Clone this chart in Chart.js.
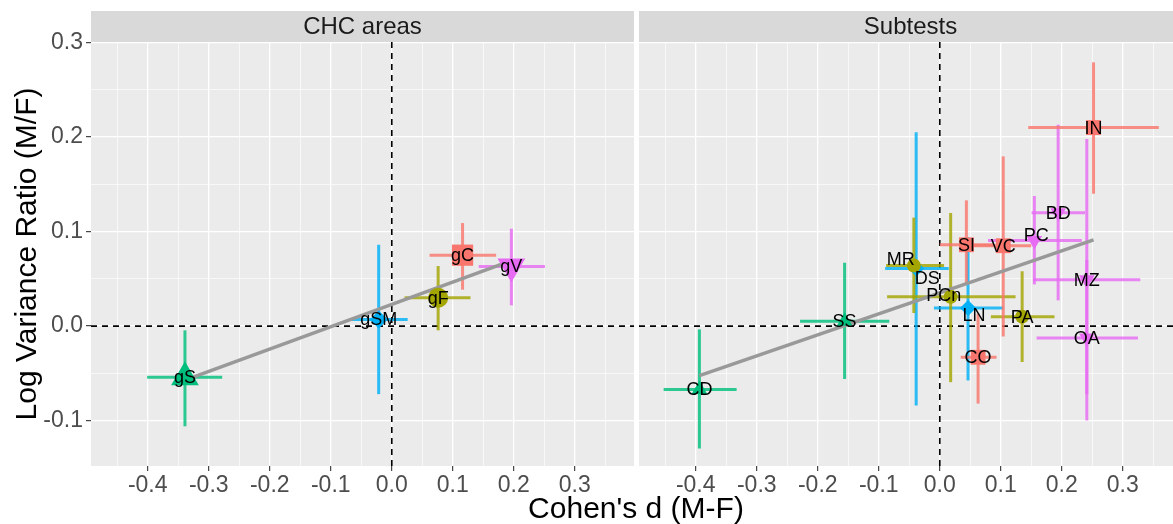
<!DOCTYPE html>
<html>
<head>
<meta charset="utf-8">
<script src="https://cdn.jsdelivr.net/npm/chart.js@4"></script>
<style>
  html, body { margin: 0; padding: 0; background: #fff; overflow: hidden; }
  #wrap { position: relative; width: 1173px; height: 524px; overflow: hidden; }
  #left { position: absolute; left: 0; top: 0; }
  #right { position: absolute; left: 636px; top: 0; }
  #xtitle { position: absolute; left: 0; width: 1272px; top: 491px; text-align: center;
            font: 30px "Liberation Sans", Arial, sans-serif; line-height: 34px; color: #000; }
</style>
</head>
<body>
<div id="wrap">
  <canvas id="left" width="636" height="524"></canvas>
  <canvas id="right" width="546" height="524"></canvas>
  <div id="xtitle">Cohen's d (M-F)</div>
</div>
<script>
const areas = ["gC", "gF", "gS", "gSM", "gV"];
const areaColors = ["#F8766D", "#A3A500", "#00BF7D", "#00B0F6", "#E76BF3"];
const areaShapes = ["rect", "circle", "triangle", "rectRot", "triangle"];
const areaRotation = [0, 0, 0, 0, 180];

// CHC areas panel
const chcLabels = ["gC", "gF", "gS", "gSM", "gV"];
const chcD = [0.116, 0.076, -0.339, -0.0215, 0.196];
const chcDLow = [0.062, 0.021, -0.401, -0.068, 0.1425];
const chcDHigh = [0.171, 0.129, -0.278, 0.026, 0.251];
const chcLvr = [0.075, 0.030, -0.054, 0.007, 0.063];
const chcLvrLow = [0.0385, -0.0045, -0.106, -0.072, 0.022];
const chcLvrHigh = [0.109, 0.0635, -0.0045, 0.086, 0.103];

// Subtests panel
const subLabels = ["IN", "SI", "VC", "CO", "MR", "PCn", "PA", "SS", "CD", "DS", "LN", "BD", "PC", "MZ", "OA"];
const subArea = ["gC", "gC", "gC", "gC", "gF", "gF", "gF", "gS", "gS", "gSM", "gSM", "gV", "gV", "gV", "gV"];
const subD = [0.252, 0.0436, 0.104, 0.0628, -0.0425, 0.0178, 0.135, -0.156, -0.394, -0.0387, 0.0463, 0.194, 0.155, 0.241, 0.241];
const subDLow = [0.145, 0.0, 0.046, 0.0343, -0.088, -0.0863, 0.0837, -0.229, -0.4526, -0.0896, -0.0096, 0.1505, 0.079, 0.153, 0.1587];
const subDHigh = [0.359, 0.087, 0.150, 0.093, 0.007, 0.1242, 0.188, -0.0828, -0.333, 0.0146, 0.104, 0.2382, 0.2327, 0.3286, 0.3248];
const subLvr = [0.21, 0.086, 0.085, -0.033, 0.064, 0.031, 0.010, 0.005, -0.067, 0.061, 0.019, 0.12, 0.0905, 0.049, -0.0127];
const subLvrLow = [0.140, 0.045, -0.011, -0.082, 0.0138, -0.0593, -0.038, -0.056, -0.1295, -0.0839, -0.0575, 0.0272, 0.0441, -0.072, -0.0998];
const subLvrHigh = [0.279, 0.133, 0.1795, 0.013, 0.1147, 0.1196, 0.058, 0.067, -0.0035, 0.205, 0.094, 0.213, 0.1376, 0.198, 0.07];

// axes
const xTicks = [-0.45, -0.4, -0.35, -0.3, -0.25, -0.2, -0.15, -0.1, -0.05, 0, 0.05, 0.1, 0.15, 0.2, 0.25, 0.3, 0.35];
const xMajor = [-0.4, -0.3, -0.2, -0.1, 0, 0.1, 0.2, 0.3];
const yTicks = [-0.1, -0.05, 0, 0.05, 0.1, 0.15, 0.2, 0.25, 0.3];
const yMajor = [-0.1, 0, 0.1, 0.2, 0.3];
const xMin = -0.493, xMax = 0.397, yMin = -0.148, yMax = 0.3005;

// nudges for a few crowded labels (pixels)
const labelNudge = { MR: [-13, -7], DS: [11, 10], PCn: [-7, -2], LN: [6, 7], PC: [2, -5] };

Chart.defaults.font.family = '"Liberation Sans", Arial, sans-serif';

const isMajor = (v, list) => list.some(m => Math.abs(m - v) < 1e-9);

function withAlpha(hex, a) {
  const n = parseInt(hex.slice(1), 16);
  return `rgba(${(n >> 16) & 255},${(n >> 8) & 255},${n & 255},${a})`;
}

function fitLine(xs, ys) {
  const n = xs.length;
  const mx = xs.reduce((s, v) => s + v, 0) / n;
  const my = ys.reduce((s, v) => s + v, 0) / n;
  let sxy = 0, sxx = 0;
  for (let i = 0; i < n; i++) {
    sxy += (xs[i] - mx) * (ys[i] - my);
    sxx += (xs[i] - mx) ** 2;
  }
  const b = sxy / sxx;
  const lo = Math.min(...xs), hi = Math.max(...xs);
  return [{ x: lo, y: my + b * (lo - mx) }, { x: hi, y: my + b * (hi - mx) }];
}

function buildDatasets(p) {
  const ds = [];
  const dash = { showLine: true, borderColor: "#000", borderWidth: 1.6, borderDash: [6, 5], pointRadius: 0, order: 5 };
  ds.push({ ...dash, data: [{ x: 0, y: yMin }, { x: 0, y: yMax }] });
  ds.push({ ...dash, data: [{ x: xMin, y: 0 }, { x: xMax, y: 0 }] });

  p.labels.forEach((lab, i) => {
    const a = areas.indexOf(p.area[i]);
    const bar = { showLine: true, borderColor: withAlpha(areaColors[a], 0.82), borderWidth: 3, pointRadius: 0, order: 4 };
    ds.push({ ...bar, data: [{ x: p.dLow[i], y: p.lvr[i] }, { x: p.dHigh[i], y: p.lvr[i] }] });
    ds.push({ ...bar, data: [{ x: p.d[i], y: p.lvrLow[i] }, { x: p.d[i], y: p.lvrHigh[i] }] });
  });

  ds.push({
    data: fitLine(p.d, p.lvr), showLine: true, borderColor: "#999999",
    borderWidth: 3.5, pointRadius: 0, order: 3,
  });

  p.labels.forEach((lab, i) => {
    const a = areas.indexOf(p.area[i]);
    ds.push({
      data: [{ x: p.d[i], y: p.lvr[i] }],
      pointStyle: areaShapes[a], rotation: areaRotation[a],
      pointRadius: p.radius[areaShapes[a]], pointHoverRadius: p.radius[areaShapes[a]],
      backgroundColor: areaColors[a], borderWidth: 0, order: 1,
    });
  });
  return ds;
}

function panelPlugin(p) {
  return {
    id: "panel_" + p.strip.replace(/\s/g, ""),
    beforeDraw(chart) {
      const { ctx, chartArea: ca } = chart;
      ctx.save();
      ctx.fillStyle = "#ebebeb";
      ctx.fillRect(ca.left, ca.top, ca.right - ca.left, ca.bottom - ca.top);
      ctx.fillStyle = "#d9d9d9";
      ctx.fillRect(ca.left, 11, ca.right - ca.left, ca.top - 11);
      ctx.fillStyle = "#1a1a1a";
      ctx.font = '24px "Liberation Sans", Arial, sans-serif';
      ctx.textAlign = "center";
      ctx.textBaseline = "middle";
      ctx.fillText(p.strip, (ca.left + ca.right) / 2, (11 + ca.top) / 2 + 1);
      ctx.restore();
    },
    afterDatasetsDraw(chart) {
      const { ctx, scales: { x, y } } = chart;
      ctx.save();
      ctx.font = '18px "Liberation Sans", Arial, sans-serif';
      ctx.fillStyle = "#000";
      ctx.textAlign = "center";
      ctx.textBaseline = "middle";
      p.labels.forEach((lab, i) => {
        const n = p.nudge && labelNudge[lab] ? labelNudge[lab] : [0, 0];
        ctx.fillText(lab, x.getPixelForValue(p.d[i]) + n[0], y.getPixelForValue(p.lvr[i]) + n[1] + 1);
      });
      ctx.restore();
    },
  };
}

function noPad(s) {
  s.paddingLeft = 0; s.paddingRight = 0; s.paddingTop = 0; s.paddingBottom = 0;
}

function makePanel(canvasId, p, showY) {
  return new Chart(document.getElementById(canvasId), {
    type: "scatter",
    data: { datasets: buildDatasets(p) },
    plugins: [panelPlugin(p)],
    options: {
      responsive: false,
      animation: false,
      events: [],
      layout: {
        autoPadding: false,
        padding: { top: 42, left: showY ? 0 : 3, right: showY ? 2 : 0, bottom: 0 },
      },
      plugins: { legend: { display: false }, tooltip: { enabled: false } },
      scales: {
        x: {
          type: "linear", min: xMin, max: xMax,
          afterBuildTicks: s => { s.ticks = xTicks.map(v => ({ value: v })); },
          afterFit: s => { s.height = 58; noPad(s); },
          border: { display: false },
          grid: {
            color: "#ffffff",
            lineWidth: c => (isMajor(c.tick.value, xMajor) ? 1.3 : 0.65),
            drawTicks: true, tickLength: 5, tickWidth: 1.1,
            tickColor: c => (isMajor(c.tick.value, xMajor) ? "#333333" : "rgba(0,0,0,0)"),
          },
          ticks: {
            autoSkip: false, maxRotation: 0, padding: 1,
            color: "#4d4d4d", font: { size: 23 },
            callback: v => (isMajor(v, xMajor) ? v.toFixed(1) : ""),
          },
        },
        y: {
          type: "linear", min: yMin, max: yMax,
          afterBuildTicks: s => { s.ticks = yTicks.map(v => ({ value: v })); },
          afterFit: s => { s.width = showY ? 91 : 0; noPad(s); },
          border: { display: false },
          title: {
            display: showY, text: "Log Variance Ratio (M/F)", color: "#000",
            font: { size: 30 }, padding: { top: 10, bottom: 0 },
          },
          grid: {
            color: "#ffffff",
            lineWidth: c => (isMajor(c.tick.value, yMajor) ? 1.3 : 0.65),
            drawTicks: showY, tickLength: 5, tickWidth: 1.1,
            tickColor: c => (isMajor(c.tick.value, yMajor) ? "#333333" : "rgba(0,0,0,0)"),
          },
          ticks: {
            display: showY, autoSkip: false, padding: 3,
            color: "#4d4d4d", font: { size: 23 },
            callback: v => (isMajor(v, yMajor) ? v.toFixed(1) : ""),
          },
        },
      },
    },
  });
}

makePanel("left", {
  strip: "CHC areas", labels: chcLabels, area: chcLabels,
  d: chcD, dLow: chcDLow, dHigh: chcDHigh, lvr: chcLvr, lvrLow: chcLvrLow, lvrHigh: chcLvrHigh,
  radius: { rect: 15, circle: 10, triangle: 16, rectRot: 9 }, nudge: false,
}, true);

makePanel("right", {
  strip: "Subtests", labels: subLabels, area: subArea,
  d: subD, dLow: subDLow, dHigh: subDHigh, lvr: subLvr, lvrLow: subLvrLow, lvrHigh: subLvrHigh,
  radius: { rect: 10.5, circle: 7, triangle: 9, rectRot: 8 }, nudge: true,
}, false);
</script>
</body>
</html>
